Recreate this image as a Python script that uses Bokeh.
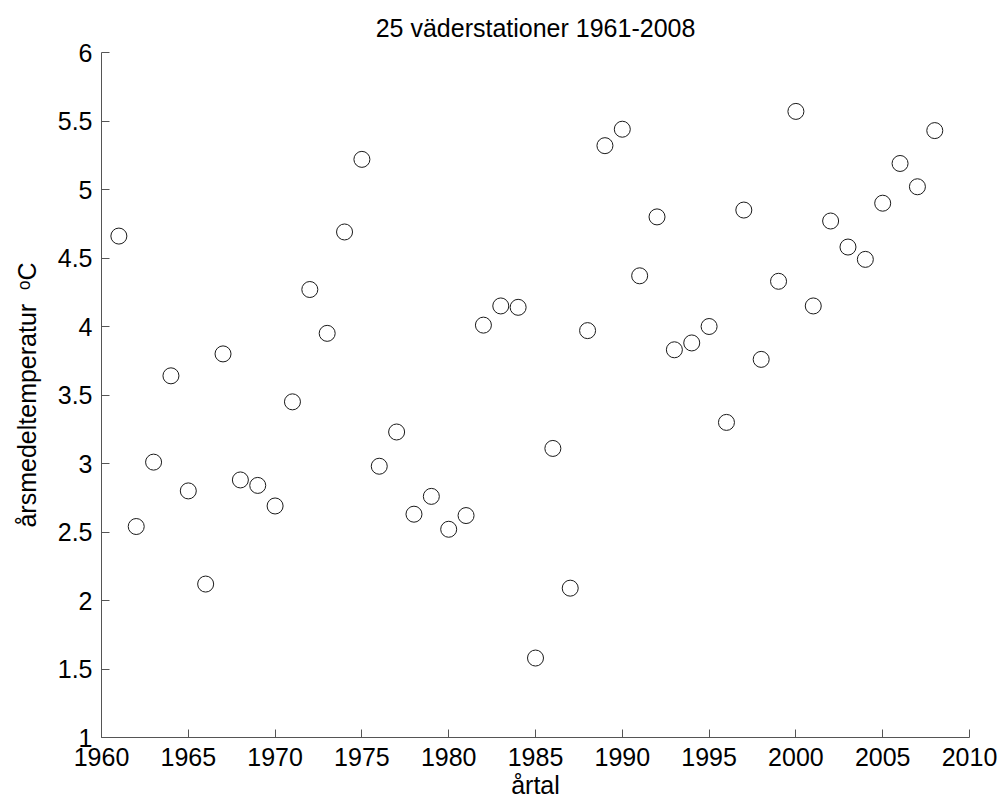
from bokeh.plotting import figure
from bokeh.models import Range1d, FixedTicker
from bokeh.embed import file_html
from bokeh.resources import INLINE

# --- data -------------------------------------------------------------
years = list(range(1961, 2009))
temps = [4.66, 2.54, 3.01, 3.64, 2.80, 2.12, 3.80, 2.88, 2.84, 2.69,
         3.45, 4.27, 3.95, 4.69, 5.22, 2.98, 3.23, 2.63, 2.76, 2.52,
         2.62, 4.01, 4.15, 4.14, 1.58, 3.11, 2.09, 3.97, 5.32, 5.44,
         4.37, 4.80, 3.83, 3.88, 4.00, 3.30, 4.85, 3.76, 4.33, 5.57,
         4.15, 4.77, 4.58, 4.49, 4.90, 5.19, 5.02, 5.43]

x_ticks = [1960, 1965, 1970, 1975, 1980, 1985, 1990, 1995, 2000, 2005, 2010]
y_ticks = [1, 1.5, 2, 2.5, 3, 3.5, 4, 4.5, 5, 5.5, 6]
y_tick_labels = ["1", "1.5", "2", "2.5", "3", "3.5", "4", "4.5", "5", "5.5", "6"]

title_text = "25 väderstationer 1961-2008"
x_label = "årtal"
y_label = "årsmedeltemperatur\u00a0\u00a0ᵒC"

FONT = "Liberation Sans"
FS = "25px"
AXIS_COLOR = "#555555"

p = figure(width=1001, height=805, output_backend="svg", toolbar_location=None,
           x_range=Range1d(x_ticks[0], x_ticks[-1]),
           y_range=Range1d(y_ticks[0], y_ticks[-1]),
           min_border_left=101, min_border_right=32,
           min_border_top=52, min_border_bottom=68,
           title=title_text)

p.title.text_font = FONT
p.title.text_font_size = FS
p.title.text_font_style = "normal"
p.title.align = "center"
p.title.vertical_align = "top"
p.title.text_color = "black"
p.title.standoff = 18

p.outline_line_color = None
p.grid.visible = False
p.background_fill_color = "white"
p.border_fill_color = "white"

for ax in (p.xaxis[0], p.yaxis[0]):
    ax.axis_line_color = AXIS_COLOR
    ax.axis_line_width = 1
    ax.major_tick_line_color = AXIS_COLOR
    ax.major_tick_in = 8
    ax.major_tick_out = 0
    ax.minor_tick_line_color = None
    ax.major_label_text_font = FONT
    ax.major_label_text_font_size = FS
    ax.major_label_text_color = "black"
    ax.axis_label_text_font = FONT
    ax.axis_label_text_font_size = FS
    ax.axis_label_text_font_style = "normal"
    ax.axis_label_text_color = "black"

p.xaxis.ticker = FixedTicker(ticks=x_ticks)
p.yaxis.ticker = FixedTicker(ticks=y_ticks)
p.yaxis.major_label_overrides = {t: l for t, l in zip(y_ticks, y_tick_labels)}
p.xaxis.major_label_standoff = 10
p.yaxis.major_label_standoff = 9
p.xaxis.axis_label = x_label
p.yaxis.axis_label = y_label
p.xaxis.axis_label_standoff = 2
p.yaxis.axis_label_standoff = 14

p.scatter(years, temps, marker="circle", size=16, fill_color=None,
          line_color="#1a1a1a", line_width=1)

open("out.html", "w").write(file_html(p, INLINE))
